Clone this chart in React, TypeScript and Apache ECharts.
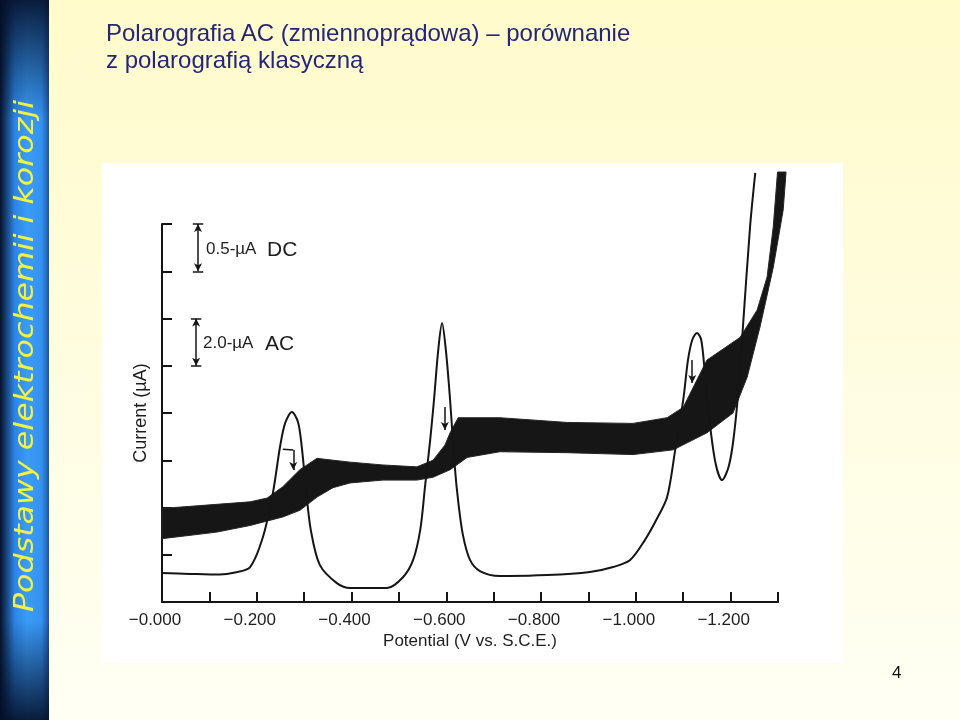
import React, { useEffect, useRef } from 'react';
import * as echarts from 'echarts';

// ---------- data ----------
// AC polarogram (thin line): potential in V vs. SCE, current in µA (2.0 µA per division)
const acPotential = [0, -0.059, -0.122, -0.154, -0.186, -0.213, -0.234, -0.249, -0.26, -0.274, -0.287, -0.295, -0.304, -0.314, -0.333, -0.369, -0.397, -0.475, -0.509, -0.53, -0.545, -0.555, -0.566, -0.574, -0.583, -0.591, -0.599, -0.608, -0.618, -0.625, -0.635, -0.65, -0.671, -0.713, -0.813, -0.903, -0.952, -0.988, -1.019, -1.043, -1.066, -1.083, -1.1, -1.11, -1.119, -1.129, -1.138, -1.146, -1.157, -1.169, -1.182, -1.195, -1.205, -1.216, -1.226, -1.241, -1.252];
const acCurrent = [1.23, 1.19, 1.16, 1.25, 1.48, 2.75, 4.61, 6.56, 7.58, 8.04, 7.62, 6.56, 4.74, 3.05, 1.57, 0.8, 0.59, 0.59, 1.06, 1.78, 3.05, 4.87, 6.86, 8.55, 10.67, 11.81, 10.67, 8.55, 5.71, 4.28, 2.84, 1.78, 1.31, 1.1, 1.14, 1.27, 1.48, 1.78, 2.62, 3.47, 4.44, 6.43, 8.55, 10.24, 11.09, 11.39, 11.09, 9.61, 7.41, 5.8, 5.16, 5.67, 6.73, 8.85, 11.64, 15.87, 18.16];

// DC polarogram (oscillating band): upper and lower envelopes, current in µA (0.5 µA per division)
const dcUpperPotential = [0, -0.08, -0.186, -0.222, -0.255, -0.291, -0.327, -0.397, -0.466, -0.538, -0.572, -0.597, -0.608, -0.625, -0.713, -0.855, -0.994, -1.066, -1.1, -1.15, -1.22, -1.256, -1.277, -1.29, -1.299];
const dcUpperCurrent = [0.99, 1.02, 1.06, 1.1, 1.22, 1.4, 1.52, 1.48, 1.45, 1.43, 1.5, 1.66, 1.79, 1.95, 1.95, 1.9, 1.89, 1.95, 2.06, 2.56, 2.8, 3.09, 3.44, 3.97, 4.55];
const dcLowerPotential = [0, -0.116, -0.186, -0.255, -0.291, -0.327, -0.361, -0.397, -0.466, -0.538, -0.572, -0.608, -0.644, -0.713, -0.855, -0.994, -1.079, -1.15, -1.205, -1.235, -1.262, -1.29, -1.311, -1.317];
const dcLowerCurrent = [0.67, 0.74, 0.81, 0.9, 0.97, 1.11, 1.21, 1.26, 1.29, 1.29, 1.32, 1.4, 1.53, 1.59, 1.58, 1.56, 1.61, 1.79, 2.0, 2.38, 2.91, 3.54, 4.15, 4.55];

// scale bars: [potential, from current, to current]
const dcScaleBar = [-0.076, 3.5, 4.0];
const acScaleBar = [-0.072, 10.0, 12.0];

// arrows marking the DC wave on each AC peak: [potential, from current, to current]
const peakArrowPotential = [-0.277, -0.597, -1.119];
const peakArrowFrom = [6.43, 8.25, 10.24];
const peakArrowTo = [5.59, 7.28, 9.27];

const xTickLabels = ['\u22120.000', '\u22120.200', '\u22120.400', '\u22120.600', '\u22120.800', '\u22121.000', '\u22121.200'];
const titleLines = ['Polarografia AC (zmiennoprądowa) \u2013 porównanie', 'z polarografią klasyczną'];
const sideText = 'Podstawy elektrochemii i korozji';
const pageNumber = '4';

const zip = (a: number[], b: number[]) => a.map((v, i) => [v, b[i]]);

const ink = '#151515';
const font = '"Liberation Sans", Arial, Helvetica, sans-serif';

export default function App() {
  const ref = useRef<HTMLDivElement>(null);

  useEffect(() => {
    if (!ref.current) return;
    const chart = echarts.init(ref.current, undefined, { renderer: 'svg' });

    const dcUpper = zip(dcUpperPotential, dcUpperCurrent);
    const dcLower = zip(dcLowerPotential, dcLowerCurrent);

    const scaleLines = (bar: number[]) => {
      const [e, a, b] = bar;
      const w = 0.011;
      return [
        [{ coord: [e, a], symbol: 'arrow', symbolSize: [6, 8] }, { coord: [e, b], symbol: 'arrow', symbolSize: [6, 8] }],
        [{ coord: [e + w, a] }, { coord: [e - w, a] }],
        [{ coord: [e + w, b] }, { coord: [e - w, b] }],
      ];
    };

    const peakLines: any[] = peakArrowPotential.map((e, i) => [
      { coord: [e, peakArrowFrom[i]] },
      { coord: [e, peakArrowTo[i]], symbol: 'arrow', symbolSize: [6, 8] },
    ]);
    // short tail of the first arrow
    peakLines.push([{ coord: [-0.255, 6.47] }, { coord: [peakArrowPotential[0], peakArrowFrom[0]] }]);

    const markLineBase = {
      silent: true,
      symbol: ['none', 'none'],
      label: { show: false },
      emphasis: { disabled: true },
      lineStyle: { color: ink, width: 1.5, type: 'solid' },
      animation: false,
    };

    const txt = (text: string, x: number, y: number, size: number, color: string, extra: any = {}) => ({
      type: 'text',
      x,
      y,
      silent: true,
      z: 50,
      ...extra,
      style: {
        text,
        fill: color,
        fontSize: size,
        fontFamily: font,
        align: 'left',
        textAlign: 'left',
        verticalAlign: 'middle',
        textVerticalAlign: 'middle',
        ...(extra.style || {}),
      },
    });

    const option: any = {
      animation: false,
      grid: { left: 162, top: 224, width: 616, height: 378, containLabel: false, outerBoundsMode: 'none' },
      xAxis: {
        type: 'value',
        min: -1.3,
        max: 0,
        interval: 0.1,
        inverse: true,
        axisLine: { show: true, onZero: false, lineStyle: { color: ink, width: 2 } },
        axisTick: { show: true, inside: true, length: 10, lineStyle: { color: ink, width: 2 } },
        splitLine: { show: false },
        axisLabel: {
          formatter: (v: number) => {
            const k = Math.round(-v * 10);
            return k % 2 === 0 ? xTickLabels[k / 2] ?? '' : '';
          },
          color: '#1e1e1e',
          fontSize: 17,
          fontFamily: font,
          margin: 9,
          padding: [0, 14, 0, 0],
        },
        name: 'Potential (V vs. S.C.E.)',
        nameLocation: 'middle',
        nameGap: 30,
        nameMoveOverlap: false,
        nameTextStyle: { color: '#1e1e1e', fontSize: 17, fontFamily: font },
      },
      yAxis: [
        {
          type: 'value',
          min: 0,
          max: 16,
          interval: 2,
          position: 'left',
          axisLine: { show: true, onZero: false, lineStyle: { color: ink, width: 2 } },
          axisTick: { show: true, inside: true, length: 10, lineStyle: { color: ink, width: 2 } },
          axisLabel: { show: false },
          splitLine: { show: false },
          name: 'Current (µA)',
          nameLocation: 'middle',
          nameGap: 13,
          nameMoveOverlap: false,
          nameTextStyle: { color: '#1e1e1e', fontSize: 18, fontFamily: font },
        },
        { type: 'value', min: 0, max: 4, interval: 0.5, show: false },
      ],
      series: [
        {
          name: 'DC',
          type: 'custom',
          coordinateSystem: 'cartesian2d',
          xAxisIndex: 0,
          yAxisIndex: 1,
          clip: false,
          silent: true,
          data: dcUpper,
          encode: { x: 0, y: 1 },
          renderItem: (params: any, api: any) => {
            if (params.dataIndex !== 0) return null;
            const pts = dcUpper.map((p) => api.coord(p)).concat(dcLower.slice().reverse().map((p) => api.coord(p)));
            return { type: 'polygon', shape: { points: pts }, style: { fill: '#161616', stroke: '#262626', lineWidth: 1 } };
          },
          markLine: { ...markLineBase, data: scaleLines(dcScaleBar) },
          z: 2,
        },
        {
          name: 'AC',
          type: 'line',
          xAxisIndex: 0,
          yAxisIndex: 0,
          data: zip(acPotential, acCurrent),
          showSymbol: false,
          smooth: 0.3,
          clip: false,
          silent: true,
          lineStyle: { color: ink, width: 2 },
          markLine: { ...markLineBase, data: [...scaleLines(acScaleBar), ...peakLines] },
          z: 3,
        },
      ],
      graphic: [
        {
          type: 'rect', silent: true, z: -20,
          shape: { x: 0, y: 0, width: 960, height: 720 },
          style: { fill: new echarts.graphic.LinearGradient(0, 0, 0, 1, [{ offset: 0, color: '#FFFBCB' }, { offset: 1, color: '#FFFFF4' }]) },
        },
        {
          type: 'rect', silent: true, z: -15,
          shape: { x: 102, y: 163, width: 741, height: 500 },
          style: { fill: '#FFFFFF' },
        },
        {
          type: 'rect', silent: true, z: -14,
          shape: { x: 0, y: 0, width: 49, height: 720 },
          style: { fill: new echarts.graphic.LinearGradient(0, 0, 1, 0, [
            { offset: 0, color: '#06122a' },
            { offset: 0.3, color: '#2d84e4' },
            { offset: 0.55, color: '#3a9cf7' },
            { offset: 0.85, color: '#3592f0' },
            { offset: 1, color: '#1c55a4' },
          ]) },
        },
        {
          type: 'rect', silent: true, z: -13,
          shape: { x: 0, y: 0, width: 49, height: 120 },
          style: { fill: new echarts.graphic.LinearGradient(0, 0, 0, 1, [{ offset: 0, color: 'rgba(4,14,38,0.9)' }, { offset: 1, color: 'rgba(4,14,38,0)' }]) },
        },
        {
          type: 'rect', silent: true, z: -13,
          shape: { x: 0, y: 620, width: 49, height: 100 },
          style: { fill: new echarts.graphic.LinearGradient(0, 0, 0, 1, [{ offset: 0, color: 'rgba(4,14,38,0)' }, { offset: 1, color: 'rgba(4,14,38,0.9)' }]) },
        },
        {
          type: 'text', silent: true, z: 50,
          x: 24, y: 356, rotation: Math.PI / 2, scaleX: 1.22,
          style: {
            text: sideText, fill: '#F4F23C', fontSize: 26, fontStyle: 'italic',
            fontFamily: '"DejaVu Sans", sans-serif',
            align: 'center', textAlign: 'center', verticalAlign: 'middle', textVerticalAlign: 'middle',
          },
        },
        txt(titleLines[0], 106, 32, 24, '#25257a'),
        txt(titleLines[1], 106, 59, 24, '#25257a'),
        txt(pageNumber, 892, 672, 17, '#111111'),
        txt('0.5-µA', 206, 248, 17, '#1e1e1e'),
        txt('DC', 267, 248, 21, '#1e1e1e'),
        txt('2.0-µA', 203, 342, 17, '#1e1e1e'),
        txt('AC', 265, 342, 21, '#1e1e1e'),
      ],
    };

    chart.setOption(option);
    return () => chart.dispose();
  }, []);

  return <div ref={ref} style={{ position: 'fixed', left: 0, top: 0, width: 960, height: 720 }} />;
}
